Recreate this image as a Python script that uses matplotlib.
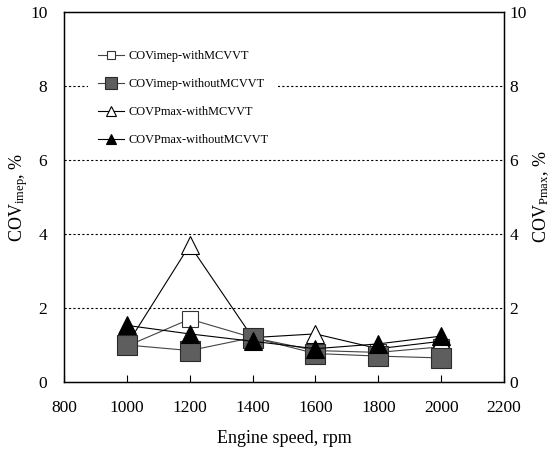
import matplotlib
matplotlib.use("Agg")
import matplotlib.pyplot as plt

speed = [1000, 1200, 1400, 1600, 1800, 2000]
imep_with = [0.97, 1.70, 1.20, 0.85, 0.80, 0.95]
imep_without = [1.00, 0.85, 1.20, 0.77, 0.70, 0.65]
pmax_with = [1.00, 3.70, 1.20, 1.30, 0.90, 1.10]
pmax_without = [1.53, 1.30, 1.10, 0.90, 1.03, 1.24]

labels = ["COVimep-withMCVVT", "COVimep-withoutMCVVT",
          "COVPmax-withMCVVT", "COVPmax-withoutMCVVT"]
xticks = [800, 1000, 1200, 1400, 1600, 1800, 2000, 2200]
yticks = [0, 2, 4, 6, 8, 10]

plt.rcParams['font.family'] = ['Liberation Serif', 'DejaVu Serif']
plt.rcParams['mathtext.fontset'] = 'custom'
plt.rcParams['mathtext.rm'] = 'Liberation Serif'
plt.rcParams['mathtext.it'] = 'Liberation Serif:italic'

fig = plt.figure(figsize=(5.59, 4.61), dpi=100)
ax = fig.add_axes([64/559, 1-382/461, 440/559, 370/461])

ax.plot(speed, imep_with, color='#444444', lw=0.8, marker='s', ms=11.5,
        mfc='white', mec='#333333', mew=0.8, label=labels[0], zorder=3)
ax.plot(speed, imep_without, color='#444444', lw=0.8, marker='s', ms=15,
        mfc='#5e5e5e', mec='#2a2a2a', mew=0.8, label=labels[1], zorder=4)
ax.plot(speed, pmax_with, color='black', lw=0.8, marker='^', ms=13,
        mfc='white', mec='black', mew=0.8, label=labels[2], zorder=3.5)
ax.plot(speed, pmax_without, color='black', lw=0.8, marker='^', ms=13,
        mfc='black', mec='black', mew=0.8, label=labels[3], zorder=5)

ax.set_xlim(800, 2200)
ax.set_ylim(0, 10)
ax.set_xticks(xticks)
ax.set_yticks(yticks)
for y in yticks[1:-1]:
    ax.axhline(y, color='black', lw=0.8, ls=(0, (2, 2)), zorder=1)

ax.tick_params(axis='x', direction='in', length=5, width=0.8, pad=13, labelsize=12.5)
ax.tick_params(axis='y', length=0, pad=12, labelsize=12.5)
for s in ax.spines.values():
    s.set_linewidth(1.0)

ax.set_xlabel("Engine speed, rpm", fontsize=13, labelpad=10)
ax.set_ylabel(r"COV$_{\mathrm{imep}}$, %", fontsize=13, labelpad=0)

ax2 = ax.twinx()
ax2.set_ylim(0, 10)
ax2.set_yticks(yticks)
ax2.tick_params(axis='y', length=0, pad=4, labelsize=12.5)
ax2.set_ylabel(r"COV$_{\mathrm{Pmax}}$, %", fontsize=13, labelpad=3)

leg = ax.legend(loc='center left', bbox_to_anchor=(0.055, 0.767), fontsize=8.8,
                frameon=True, facecolor='white', edgecolor='none', framealpha=1,
                fancybox=False, borderpad=0.8, labelspacing=1.3,
                handlelength=2.1, handletextpad=0.4, markerscale=0.55,
                borderaxespad=0)
leg.set_zorder(6)

fig.savefig("out.png", dpi=100)
